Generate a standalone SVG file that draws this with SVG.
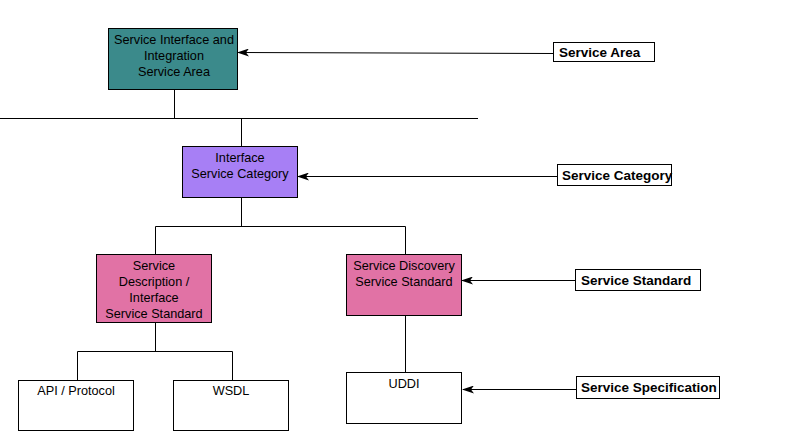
<svg xmlns="http://www.w3.org/2000/svg" width="786" height="441" viewBox="0 0 786 441">
<defs>
<marker id="ah" markerWidth="12" markerHeight="8" refX="11" refY="4" orient="auto" markerUnits="userSpaceOnUse">
<path d="M0,0 L12,4 L0,8 L3,4 Z" fill="#000"/>
</marker>
<style>
.n{stroke:#000;stroke-width:1}
.t{font-family:"Liberation Sans",Arial,sans-serif;font-size:12.7px;fill:#000;text-anchor:middle}
.lb{font-family:"Liberation Sans",Arial,sans-serif;font-size:13.5px;font-weight:bold;fill:#000}
.c{stroke:#000;stroke-width:1;fill:none}
</style>
</defs>
<rect width="786" height="441" fill="#fff"/>
<g id="connectors">
<path class="c" d="M174.5,89 V118.5 M0,118.5 H478 M241.5,118.5 V146"/>
<path class="c" d="M241.5,197 V226.5 M155.5,226.5 H405.5 M155.5,226.5 V254 M405.5,226.5 V254"/>
<path class="c" d="M155.5,322 V351.5 M77.5,351.5 H232.5 M77.5,351.5 V380 M232.5,351.5 V380"/>
<path class="c" d="M405.5,315 V372"/>
<line class="c" x1="553" y1="53.5" x2="238" y2="52.5" marker-end="url(#ah)"/>
<line class="c" x1="557" y1="176.5" x2="298" y2="176.5" marker-end="url(#ah)"/>
<line class="c" x1="575" y1="280.5" x2="462" y2="280.5" marker-end="url(#ah)"/>
<line class="c" x1="576" y1="389.5" x2="463" y2="389.5" marker-end="url(#ah)"/>
</g>
<g id="area">
<rect class="n" x="108.5" y="28.5" width="129" height="61" fill="#3b8a8b"/>
<text class="t" x="174" y="44">Service Interface and</text>
<text class="t" x="174" y="60">Integration</text>
<text class="t" x="174" y="76">Service Area</text>
</g>
<g id="category">
<rect class="n" x="182.5" y="146.5" width="115" height="51" fill="#a77ff5"/>
<text class="t" x="240" y="162">Interface</text>
<text class="t" x="240" y="178">Service Category</text>
</g>
<g id="desc">
<rect class="n" x="96.5" y="254.5" width="115" height="68" fill="#e172a5"/>
<text class="t" x="154" y="270">Service</text>
<text class="t" x="154" y="286">Description /</text>
<text class="t" x="154" y="302">Interface</text>
<text class="t" x="154" y="318">Service Standard</text>
</g>
<g id="discovery">
<rect class="n" x="346.5" y="254.5" width="115" height="61" fill="#e172a5"/>
<text class="t" x="404" y="270">Service Discovery</text>
<text class="t" x="404" y="286">Service Standard</text>
</g>
<g id="api">
<rect class="n" x="18.5" y="380.5" width="115" height="50" fill="#fff"/>
<text class="t" x="76" y="395">API / Protocol</text>
</g>
<g id="wsdl">
<rect class="n" x="173.5" y="380.5" width="115" height="50" fill="#fff"/>
<text class="t" x="231" y="395">WSDL</text>
</g>
<g id="uddi">
<rect class="n" x="346.5" y="372.5" width="115" height="51" fill="#fff"/>
<text class="t" x="404" y="388">UDDI</text>
</g>
<g id="lbl-area">
<rect class="n" x="553.5" y="42.5" width="101" height="19" fill="#fff"/>
<text class="lb" x="559" y="57">Service Area</text>
</g>
<g id="lbl-category">
<rect class="n" x="557.5" y="164.5" width="114" height="21" fill="#fff"/>
<text class="lb" x="562" y="180">Service Category</text>
</g>
<g id="lbl-standard">
<rect class="n" x="575.5" y="269.5" width="125" height="21" fill="#fff"/>
<text class="lb" x="581" y="285">Service Standard</text>
</g>
<g id="lbl-spec">
<rect class="n" x="576.5" y="376.5" width="143" height="22" fill="#fff"/>
<text class="lb" x="581" y="392">Service Specification</text>
</g>
</svg>
